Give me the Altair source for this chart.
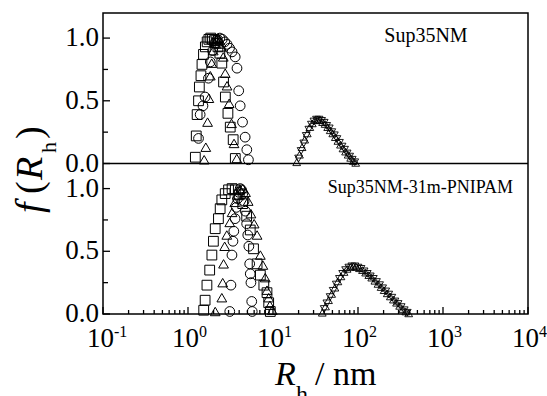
import altair as alt
import pandas as pd

FONT = "Liberation Serif"

# ---------------- data ----------------
# Top panel: Sup35NM
top_sq_rh = [1.22, 1.25, 1.28, 1.33, 1.36, 1.42, 1.46, 1.52, 1.60, 1.68, 1.76, 1.85, 1.94, 2.04, 2.14, 2.25, 2.37, 2.50, 2.62, 2.75, 2.95, 3.14, 3.40, 3.60]
top_sq_f = [0.05, 0.22, 0.39, 0.50, 0.61, 0.70, 0.79, 0.87, 0.93, 0.97, 0.99, 1.00, 0.99, 0.98, 0.96, 0.93, 0.88, 0.80, 0.65, 0.53, 0.40, 0.29, 0.19, 0.04]

top_tr_rh = [1.55, 1.62, 1.70, 1.76, 1.83, 1.90, 1.98, 2.07, 2.16, 2.26, 2.37, 2.48, 2.60, 2.74, 2.88, 3.05, 3.25, 3.48, 3.75]
top_tr_f = [0.03, 0.13, 0.33, 0.52, 0.70, 0.80, 0.90, 0.96, 0.99, 1.0, 0.98, 0.93, 0.85, 0.72, 0.62, 0.48, 0.32, 0.16, 0.04]

top_ci_rh = [1.33, 1.39, 1.50, 1.59, 1.74, 1.83, 1.95, 2.08, 2.22, 2.37, 2.53, 2.70, 2.88, 3.08, 3.30, 3.59, 3.77, 3.95, 4.11, 4.38, 4.70, 4.92, 5.14]
top_ci_f = [0.20, 0.39, 0.46, 0.53, 0.68, 0.81, 0.90, 0.96, 0.99, 1.0, 0.99, 0.97, 0.95, 0.92, 0.89, 0.85, 0.76, 0.58, 0.46, 0.33, 0.21, 0.11, 0.03]

top_tu_rh = [19, 20.5, 22, 23.6, 25.3, 27.1, 29, 31.1, 33.3, 35.7, 38.3, 41, 44, 47.1, 50.5, 54.1, 58, 62.2, 66.6, 71.4, 76.5, 82, 87.9, 94]
top_tu_f = [0.01, 0.07, 0.13, 0.19, 0.24, 0.29, 0.32, 0.345, 0.35, 0.345, 0.33, 0.315, 0.29, 0.265, 0.24, 0.21, 0.18, 0.15, 0.12, 0.095, 0.07, 0.045, 0.02, 0.005]

top_td_rh = [20, 21.4, 23, 24.6, 26.4, 28.3, 30.3, 32.5, 34.8, 37.3, 40, 42.8, 45.9, 49.2, 52.7, 56.5, 60.5, 64.9, 69.5, 74.5, 79.8, 85.5, 91.6]
top_td_f = [0.04, 0.1, 0.16, 0.22, 0.27, 0.31, 0.335, 0.35, 0.35, 0.34, 0.325, 0.3, 0.28, 0.25, 0.225, 0.195, 0.165, 0.135, 0.11, 0.08, 0.055, 0.03, 0.01]

# Bottom panel: Sup35NM-31m-PNIPAM
bot_sq_rh = [1.53, 1.59, 1.67, 1.80, 1.91, 1.99, 2.09, 2.28, 2.39, 2.50, 2.74, 3.00, 3.30, 3.60, 4.00, 4.40, 4.90, 5.40, 5.90, 6.50, 7.10, 7.80, 8.50, 8.90, 9.30]
bot_sq_f = [0.03, 0.11, 0.23, 0.35, 0.47, 0.58, 0.68, 0.76, 0.84, 0.91, 0.96, 0.99, 1.00, 0.99, 0.95, 0.88, 0.78, 0.67, 0.52, 0.40, 0.31, 0.23, 0.17, 0.09, 0.02]

bot_tr_rh = [2.09, 2.50, 2.56, 2.62, 2.70, 2.86, 3.10, 3.30, 3.55, 3.80, 4.1, 4.4, 4.75, 5.1, 5.5, 6.0, 6.5, 7.1, 7.6, 8.1, 8.5, 8.9, 9.2, 9.8]
bot_tr_f = [0.02, 0.13, 0.25, 0.40, 0.54, 0.63, 0.73, 0.81, 0.89, 0.95, 0.99, 1.0, 0.97, 0.90, 0.80, 0.72, 0.63, 0.47, 0.39, 0.29, 0.19, 0.13, 0.07, 0.03]

bot_ci_rh = [3.10, 3.20, 3.29, 3.38, 3.46, 3.58, 3.70, 3.83, 3.97, 4.11, 4.26, 4.41, 4.57, 4.73, 4.90, 5.05, 5.20, 5.32, 5.40, 5.50, 5.62, 5.70]
bot_ci_f = [0.02, 0.23, 0.47, 0.58, 0.66, 0.76, 0.85, 0.92, 0.97, 1.0, 0.99, 0.96, 0.9, 0.82, 0.72, 0.63, 0.54, 0.40, 0.32, 0.25, 0.10, 0.02]

bot_tu_rh = [38, 41.5, 45, 49, 53.5, 58, 63, 68.5, 74.5, 81, 88, 95.5, 104, 113, 123, 134, 145, 158, 172, 187, 203, 221, 240, 261, 284, 309, 336, 365, 395]
bot_tu_f = [0.01, 0.06, 0.11, 0.16, 0.21, 0.26, 0.30, 0.335, 0.36, 0.375, 0.38, 0.375, 0.365, 0.35, 0.33, 0.31, 0.29, 0.265, 0.24, 0.215, 0.19, 0.165, 0.14, 0.115, 0.09, 0.065, 0.04, 0.02, 0.005]

bot_td_rh = [40, 43, 47, 51, 55.5, 60.5, 66, 71.5, 78, 84.5, 92, 100, 108.5, 118, 128.5, 139.5, 151.5, 165, 179.5, 195, 212, 230, 250, 272, 296, 322, 350, 380]
bot_td_f = [0.04, 0.085, 0.135, 0.185, 0.235, 0.28, 0.32, 0.35, 0.37, 0.38, 0.38, 0.37, 0.36, 0.34, 0.32, 0.30, 0.28, 0.255, 0.23, 0.205, 0.18, 0.155, 0.13, 0.10, 0.08, 0.055, 0.03, 0.01]

decades = [0.1, 1, 10, 100, 1000, 10000]
exponents = ["-1", "0", "1", "2", "3", "4"]
minor_mult = [2, 3, 4, 5, 6, 7, 8, 9]
y_major = [0, 0.5, 1.0, 1.2, 1.7, 2.2]
y_labels = ["0.0", "0.5", "1.0", "0.0", "0.5", "1.0"]
y_minor = [0.25, 0.75, 1.45, 1.95]
panel_labels = ["Sup35NM", "Sup35NM-31m-PNIPAM"]

# ---------------- tables ----------------
rows = []
def add(rh, f, panel, series):
    for a, b in zip(rh, f):
        rows.append({"rh": a, "f": b, "panel": panel, "series": series})

add(top_sq_rh, top_sq_f, "top", "sq")
add(top_ci_rh, top_ci_f, "top", "ci")
add(top_tr_rh, top_tr_f, "top", "tr")
add(top_tu_rh, top_tu_f, "top", "tu")
add(top_td_rh, top_td_f, "top", "td")
add(bot_sq_rh, bot_sq_f, "bot", "sq")
add(bot_ci_rh, bot_ci_f, "bot", "ci")
add(bot_tr_rh, bot_tr_f, "bot", "tr")
add(bot_tu_rh, bot_tu_f, "bot", "tu")
add(bot_td_rh, bot_td_f, "bot", "td")
df = pd.DataFrame(rows)

minor_x = [d * m for d in decades[:-1] for m in minor_mult]
dec_df = pd.DataFrame({"rh": decades, "e": exponents})
minx_df = pd.DataFrame({"rh": minor_x})
ymaj_df = pd.DataFrame({"v": y_major, "lab": y_labels})
ymin_df = pd.DataFrame({"v": y_minor})
one = pd.DataFrame({"k": [0]})

W, H = 425, 301
xs = alt.Scale(type="log", domain=[0.1, 10000], nice=False)
ys = alt.Scale(domain=[0, 2.4], nice=False, zero=False)

shape_scale = alt.Scale(domain=["sq", "ci", "tr", "tu", "td"],
                        range=["square", "circle", "triangle-up", "triangle-up", "triangle-down"])

base = alt.Chart(df).transform_calculate(
    yv="datum.f + (datum.panel === 'top' ? 1.2 : 0)"
)

peak1 = base.transform_filter(
    alt.FieldOneOfPredicate(field="series", oneOf=["sq", "ci", "tr"])
).mark_point(filled=False, size=95, strokeWidth=1, color="black", opacity=1).encode(
    x=alt.X("rh:Q", scale=xs, axis=None),
    y=alt.Y("yv:Q", scale=ys, axis=None),
    shape=alt.Shape("series:N", scale=shape_scale, legend=None),
)

peak2 = base.transform_filter(
    alt.FieldOneOfPredicate(field="series", oneOf=["tu", "td"])
).mark_point(filled=False, size=60, strokeWidth=0.9, color="black", opacity=1).encode(
    x=alt.X("rh:Q", scale=xs, axis=None),
    y=alt.Y("yv:Q", scale=ys, axis=None),
    shape=alt.Shape("series:N", scale=shape_scale, legend=None),
)

mid_rule = alt.Chart(one).mark_rule(color="black", strokeWidth=1.5).encode(
    y=alt.Y(datum=1.2, scale=ys, axis=None), x=alt.value(0), x2=alt.value(W))

ymaj = alt.Chart(ymaj_df).mark_rule(color="black", strokeWidth=1.3).encode(
    y=alt.Y("v:Q", scale=ys, axis=None), x=alt.value(0), x2=alt.value(7))
ymin = alt.Chart(ymin_df).mark_rule(color="black", strokeWidth=1.3).encode(
    y=alt.Y("v:Q", scale=ys, axis=None), x=alt.value(0), x2=alt.value(5))
ylab = alt.Chart(ymaj_df).mark_text(font=FONT, fontSize=27, align="right", baseline="middle",
                                    color="black").encode(
    y=alt.Y("v:Q", scale=ys, axis=None), x=alt.value(-4), text="lab:N")

xmaj = alt.Chart(dec_df).mark_rule(color="black", strokeWidth=1.3).encode(
    x=alt.X("rh:Q", scale=xs, axis=None), y=alt.value(H), y2=alt.value(H - 7))
xmin = alt.Chart(minx_df).mark_rule(color="black", strokeWidth=1.3).encode(
    x=alt.X("rh:Q", scale=xs, axis=None), y=alt.value(H), y2=alt.value(H - 4))

xlab10 = alt.Chart(dec_df).mark_text(text="10", font=FONT, fontSize=27, align="right",
                                     baseline="alphabetic", dx=11, color="black").encode(
    x=alt.X("rh:Q", scale=xs, axis=None), y=alt.value(334))
xlabexp = alt.Chart(dec_df).mark_text(font=FONT, fontSize=16, align="left",
                                      baseline="alphabetic", dx=11, color="black").encode(
    x=alt.X("rh:Q", scale=xs, axis=None), y=alt.value(324), text="e:N")


def txt(text, x, y, size, italic=False, angle=0):
    kw = dict(text=text, font=FONT, fontSize=size, align="left", baseline="alphabetic",
              color="black")
    if italic:
        kw["fontStyle"] = "italic"
    if angle:
        kw["angle"] = angle
    return alt.Chart(one).mark_text(**kw).encode(x=alt.value(x), y=alt.value(y))

# x-axis title: R_h / nm
xt = [txt("R", 172, 372, 34, italic=True), txt("h", 193, 389, 24), txt("/ nm", 212, 372, 34)]
# y-axis title: f(R_h), rotated to read upwards
yt = [txt("f", -61, 200, 38, italic=True, angle=270),
      txt("(", -61, 181, 38, angle=270),
      txt("R", -61, 167, 38, italic=True, angle=270),
      txt("h", -47, 140, 22, angle=270),
      txt(")", -61, 126, 38, angle=270)]

lab_top = alt.Chart(one).mark_text(text=panel_labels[0], font=FONT, fontSize=20, align="center",
                                   baseline="alphabetic", color="black").encode(
    x=alt.X(datum=630, scale=xs, axis=None), y=alt.Y(datum=2.166, scale=ys, axis=None))
lab_bot = alt.Chart(one).mark_text(text=panel_labels[1], font=FONT, fontSize=18, align="center",
                                   baseline="alphabetic", color="black").encode(
    x=alt.X(datum=541, scale=xs, axis=None), y=alt.Y(datum=0.965, scale=ys, axis=None))

chart = alt.layer(
    peak1, peak2, mid_rule, ymaj, ymin, ylab, xmaj, xmin, xlab10, xlabexp,
    lab_top, lab_bot, *xt, *yt
).properties(
    width=W, height=H,
    autosize=alt.AutoSizeParams(type="none"),
    padding={"left": 103, "top": 13, "right": 19, "bottom": 82},
).configure(
    font=FONT, background="white",
    view=alt.ViewConfig(stroke="black", strokeWidth=1.5),
)

chart.save("out.html", embed_options={"renderer": "svg", "actions": False})
